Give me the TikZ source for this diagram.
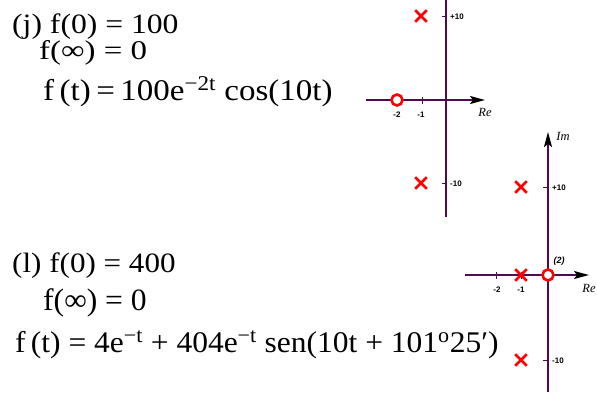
\documentclass[tikz,border=0pt]{standalone}
\usepackage{fontspec}
\setmainfont{Liberation Serif}
\newfontfamily\lsans{Liberation Sans}
\usetikzlibrary{arrows.meta,shapes.misc}
\definecolor{axc}{RGB}{80,10,80}
\begin{document}
\begin{tikzpicture}[x=1pt,y=-1pt,
  axis/.style={draw=axc,line width=2pt},
  arr/.style={-{Stealth[length=15pt,width=8pt,inset=3pt,black]}},
  tck/.style={draw=axc,line width=1pt},
  pole/.style={cross out,draw=red,line width=2.6pt,minimum size=9pt,inner sep=0pt},
  zero/.style={circle,draw=red,fill=white,line width=2.6pt,minimum size=11pt,inner sep=0pt},
  lab/.style={font=\lsans\bfseries\fontsize{8}{9}\selectfont,inner sep=0pt},
  axl/.style={font=\itshape\fontsize{12.5}{13}\selectfont,inner sep=0pt},
  eq/.style={anchor=base west,inner sep=0pt}
  ]
\useasboundingbox (0,0) rectangle (597,392);
% ---------- top plane ----------
\coordinate (tvT) at (446,0);
\coordinate (tvB) at (446,217);
\coordinate (thL) at (366,100);
\coordinate (thR) at (485,100);
\draw[axis] (tvT) -- (tvB);
\draw[axis,arr] (thL) -- (thR);
\coordinate (tk1a) at (422,96.5); \coordinate (tk1b) at (422,103.5);
\draw[tck] (tk1a) -- (tk1b);
\coordinate (tkp) at (442,16); \coordinate (tkpe) at (446,16);
\draw[tck] (tkp) -- (tkpe);
\coordinate (tkm) at (442,183); \coordinate (tkme) at (446,183);
\draw[tck] (tkm) -- (tkme);
\node[pole] (tp1) at (421,16) {};
\node[pole] (tp2) at (421,183) {};
\node[zero] (tz) at (397,100) {};
\node[lab,anchor=west] (tl10) at (450,16.5) {+10};
\node[lab,anchor=west] (tlm10) at (450,183.5) {-10};
\node[lab] (tlm2) at (397,115) {-2};
\node[lab] (tlm1) at (421,115) {-1};
\node[axl] (tre) at (485,112) {Re};
% ---------- bottom plane ----------
\coordinate (bvT) at (548,132);
\coordinate (bvB) at (548,392);
\coordinate (bhL) at (465,275);
\coordinate (bhR) at (589,275);
\draw[axis,arr] (bvB) -- (bvT);
\draw[axis,arr] (bhL) -- (bhR);
\coordinate (bk2a) at (496,271.5); \coordinate (bk2b) at (496,278.5);
\draw[tck] (bk2a) -- (bk2b);
\coordinate (bk1a) at (521,271.5); \coordinate (bk1b) at (521,278.5);
\draw[tck] (bk1a) -- (bk1b);
\coordinate (bkp) at (543,187); \coordinate (bkpe) at (548,187);
\draw[tck] (bkp) -- (bkpe);
\coordinate (bkm) at (543,360); \coordinate (bkme) at (548,360);
\draw[tck] (bkm) -- (bkme);
\node[pole] (bp1) at (521,187) {};
\node[pole] (bp2) at (521,275) {};
\node[pole] (bp3) at (521,360) {};
\node[zero] (bz) at (548,275) {};
\node[lab,anchor=west] (bl10) at (552,187.5) {+10};
\node[lab,anchor=west] (blm10) at (552,360.5) {-10};
\node[lab] (blm2) at (497,290) {-2};
\node[lab] (blm1) at (521,290) {-1};
\node[lab,font=\lsans\bfseries\itshape\fontsize{9}{10}\selectfont] (bmul) at (559,261) {(2)};
\node[axl] (bim) at (563,136) {Im};
\node[axl] (bre) at (589,288) {Re};
% ---------- equations ----------
\node[eq,font=\fontsize{28}{30}\selectfont] (j1) at (12,33) {\scalebox{1.13}[1]{(j) f(0) = 100}};
\node[eq,font=\fontsize{27}{30}\selectfont] (j2) at (39,59) {\scalebox{1.22}[1]{f(∞) = 0}};
\node[eq,font=\fontsize{30}{33}\selectfont] (j3) at (43,100) {\scalebox{1.10}[1]{f\,(t)\,=\,100e\textsuperscript{−2t} cos(10t)}};
\node[eq,font=\fontsize{28}{30}\selectfont] (l1) at (12,272) {\scalebox{1.11}[1]{(l) f(0) = 400}};
\node[eq,font=\fontsize{31}{33}\selectfont] (l2) at (43,310) {\scalebox{1.02}[1]{f(∞) = 0}};
\node[eq,font=\fontsize{30}{33}\selectfont] (l3) at (15,352) {\scalebox{1.05}[1]{f\,(t) = 4e\textsuperscript{−t} + 404e\textsuperscript{−t} sen(10t + 101\textsuperscript{o}25′)}};
\end{tikzpicture}
\end{document}
